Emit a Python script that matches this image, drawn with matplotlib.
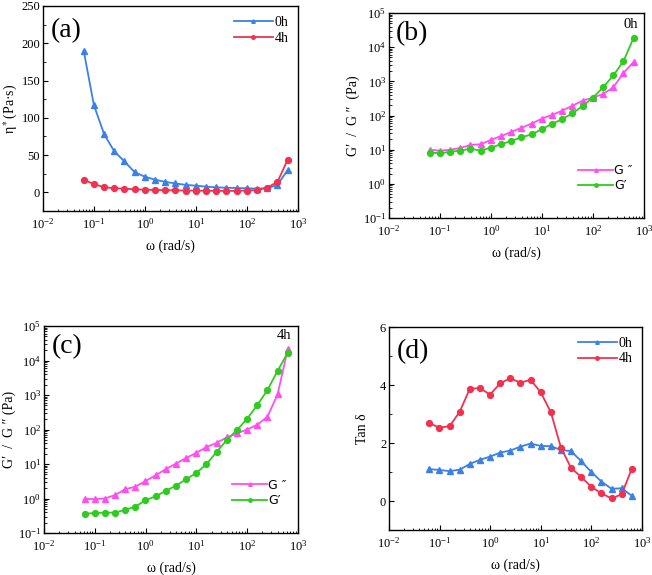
import matplotlib
matplotlib.use("Agg")
import matplotlib.pyplot as plt
from matplotlib.ticker import LogLocator, NullFormatter, MultipleLocator
import numpy as np

plt.rcParams['font.family'] = ['Liberation Serif', 'DejaVu Serif']
plt.rcParams['mathtext.fontset'] = 'stix'

omega = [0.0628, 0.0995, 0.158, 0.25, 0.396, 0.628, 0.995, 1.58, 2.5, 3.96, 6.28,
         9.95, 15.8, 25.0, 39.6, 62.8, 99.5, 158, 250, 396, 628]

eta_0h = [190, 117, 78, 55, 41.5, 27, 21, 17, 14, 12, 10, 9, 7.6, 6.7, 6.2, 5.8, 5.5, 5, 5.5, 10, 30]
eta_4h = [17, 11, 7, 5.5, 5, 4, 3.6, 3.2, 2.9, 2.7, 2.5, 2.3, 2.1, 2, 2, 2, 2.5, 3, 6.5, 14, 44]

Gpp_0h = [9.9, 9.4, 9.9, 11.2, 13.8, 14.4, 19.3, 25, 33, 44, 58, 81, 104, 139, 194, 272, 333, 428, 665, 1770, 3700]
Gp_0h = [8.2, 7.9, 8.6, 9.4, 10.6, 9.4, 11.5, 14.4, 18, 23, 28, 40, 57, 78, 116, 190, 333, 665, 1490, 3870, 19000]

Gpp_4h = [0.97, 0.96, 1.0, 1.26, 1.85, 2.2, 3.2, 4.7, 7.1, 10.3, 15, 21, 31, 41, 59, 77, 100, 137, 234, 1040, 21000]
Gp_4h = [0.36, 0.38, 0.39, 0.39, 0.47, 0.58, 0.89, 1.16, 1.66, 2.37, 3.6, 5.5, 9.9, 22.5, 49, 96, 204, 510, 1380, 5000, 16900]

tan_0h = [1.10, 1.07, 1.03, 1.08, 1.28, 1.42, 1.53, 1.67, 1.74, 1.875, 1.98, 1.90, 1.89, 1.76, 1.72, 1.375, 1.0, 0.67, 0.42, 0.44, 0.18]
tan_4h = [2.68, 2.53, 2.58, 3.08, 3.875, 3.89, 3.67, 4.06, 4.23, 4.08, 4.18, 3.75, 3.06, 1.84, 1.14, 0.83, 0.49, 0.26, 0.09, 0.23, 1.11]

BLUE = '#3b80e8'
RED = '#f2304f'
PINK = '#ff4ff0'
GREEN = '#2fcc1f'

fig = plt.figure(figsize=(6.52, 5.75), dpi=100)

def add_ax(l, r, t, b):
    W, H = 652, 575
    return fig.add_axes([l / W, 1 - b / H, (r - l) / W, (b - t) / H])

axa = add_ax(43, 298, 6, 211)
axb = add_ax(389, 644, 13, 218)
axc = add_ax(44, 298, 326, 533)
axd = add_ax(389, 642, 327, 530)

def style_x(ax):
    ax.set_xscale('log')
    ax.set_xlim(1e-2, 1e3)
    ax.xaxis.set_major_locator(LogLocator(base=10, numticks=10))
    ax.xaxis.set_minor_locator(LogLocator(base=10, subs=np.arange(2, 10), numticks=10))
    ax.xaxis.set_minor_formatter(NullFormatter())
    ax.set_xlabel('ω (rad/s)', fontsize=10, labelpad=6)
    ax.tick_params(which='both', direction='in', labelsize=9)
    ax.tick_params(which='major', length=3.5)
    ax.tick_params(which='minor', length=1.8)
    ax.tick_params(axis='x', pad=4)
    ax.tick_params(axis='y', pad=2)
    for s in ax.spines.values():
        s.set_linewidth(1.0)

def style_ylog(ax):
    ax.set_yscale('log')
    ax.set_ylim(1e-1, 1e5)
    ax.yaxis.set_major_locator(LogLocator(base=10, numticks=10))
    ax.yaxis.set_minor_locator(LogLocator(base=10, subs=np.arange(2, 10), numticks=10))
    ax.yaxis.set_minor_formatter(NullFormatter())

ms = 4.2
lw = 1.3
legkw = dict(frameon=False, handlelength=2.8, handletextpad=0.1,
             labelspacing=0.2, markerscale=0.6)

# (a)
style_x(axa)
axa.plot(omega, eta_0h, '-^', color=BLUE, lw=lw, ms=ms, label='0h')
axa.plot(omega, eta_4h, '-o', color=RED, lw=lw, ms=ms, label='4h')
axa.set_ylim(-25, 250)
axa.yaxis.set_major_locator(MultipleLocator(50))
axa.yaxis.set_minor_locator(MultipleLocator(25))
axa.set_ylabel('η$^*$(Pa·s)', fontsize=10, labelpad=1)
axa.legend(loc='upper right', fontsize=10, borderaxespad=0.3, **legkw)
axa.text(0.03, 0.88, '(a)', transform=axa.transAxes, fontsize=20, va='center')

# (b)
style_x(axb)
style_ylog(axb)
axb.plot(omega, Gpp_0h, '-^', color=PINK, lw=lw, ms=ms, label='G ″')
axb.plot(omega, Gp_0h, '-o', color=GREEN, lw=lw, ms=ms, label="G′")
axb.set_ylabel('G′  /  G ″  (Pa)', fontsize=10, labelpad=2)
axb.legend(loc='lower right', bbox_to_anchor=(1.0, 0.07),
           prop={'family': 'DejaVu Sans', 'size': 9}, **legkw)
axb.text(0.975, 0.945, '0h', transform=axb.transAxes, fontsize=10.5, ha='right', va='center')
axb.text(0.025, 0.90, '(b)', transform=axb.transAxes, fontsize=20, va='center')

# (c)
style_x(axc)
style_ylog(axc)
axc.plot(omega, Gpp_4h, '-^', color=PINK, lw=lw, ms=ms, label='G ″')
axc.plot(omega, Gp_4h, '-o', color=GREEN, lw=lw, ms=ms, label="G′")
axc.set_ylabel('G′  /  G ″ (Pa)', fontsize=10, labelpad=1)
axc.legend(loc='lower right', bbox_to_anchor=(1.0, 0.07),
           prop={'family': 'DejaVu Sans', 'size': 9}, **legkw)
axc.text(0.975, 0.955, '4h', transform=axc.transAxes, fontsize=10.5, ha='right', va='center')
axc.text(0.03, 0.90, '(c)', transform=axc.transAxes, fontsize=20, va='center')

# (d)
style_x(axd)
axd.plot(omega, tan_0h, '-^', color=BLUE, lw=lw, ms=ms, label='0h')
axd.plot(omega, tan_4h, '-o', color=RED, lw=lw, ms=ms, label='4h')
axd.set_ylim(-1, 6)
axd.yaxis.set_major_locator(MultipleLocator(2))
axd.yaxis.set_minor_locator(MultipleLocator(1))
axd.set_ylabel('Tan δ', fontsize=10, labelpad=8)
axd.legend(loc='upper right', fontsize=10, borderaxespad=0.3, **legkw)
axd.text(0.03, 0.88, '(d)', transform=axd.transAxes, fontsize=20, va='center')

fig.savefig('out.png', dpi=100)
